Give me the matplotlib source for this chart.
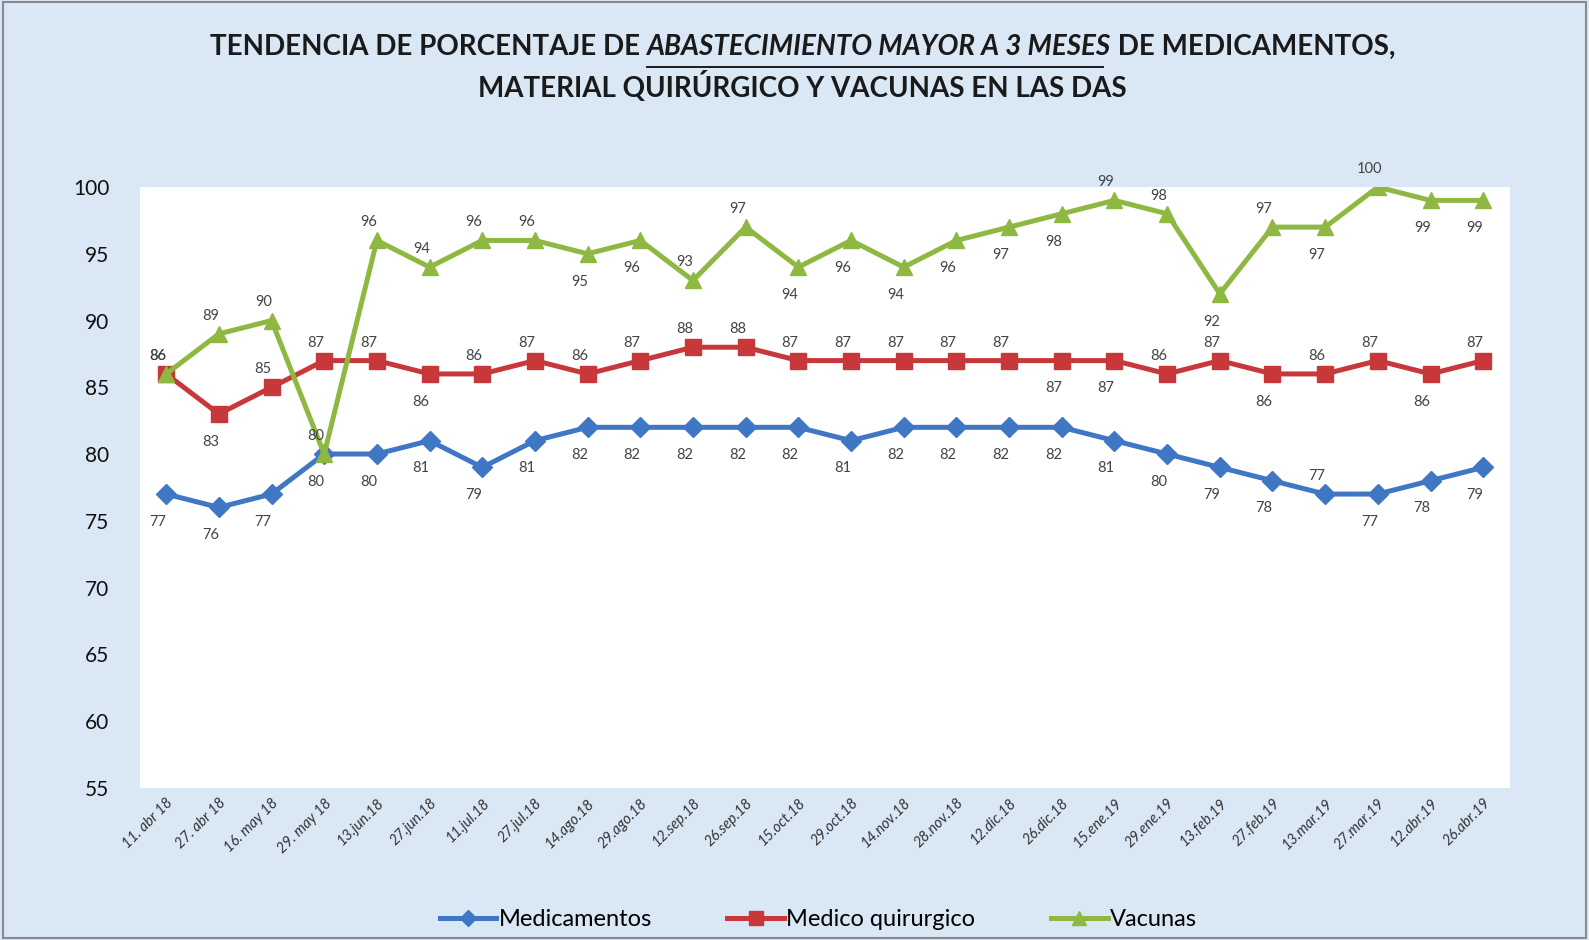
import matplotlib.pyplot as plt

fechas = ['11. abr 18', '27. abr 18', '16. may 18', '29. may 18', '13.jun.18', '27.jun.18',
          '11.jul.18', '27.jul.18', '14.ago.18', '29.ago.18', '12.sep.18', '26.sep.18',
          '15.oct.18', '29.oct.18', '14.nov.18', '28.nov.18', '12.dic.18', '26.dic.18',
          '15.ene.19', '29.ene.19', '13.feb.19', '27.feb.19', '13.mar.19', '27.mar.19',
          '12.abr.19', '26.abr.19']
medicamentos = [77, 76, 77, 80, 80, 81, 79, 81, 82, 82, 82, 82, 82, 81, 82, 82, 82, 82,
                81, 80, 79, 78, 77, 77, 78, 79]
medico_quir = [86, 83, 85, 87, 87, 86, 86, 87, 86, 87, 88, 88, 87, 87, 87, 87, 87, 87,
               87, 86, 87, 86, 86, 87, 86, 87]
vacunas = [86, 89, 90, 80, 96, 94, 96, 96, 95, 96, 93, 97, 94, 96, 94, 96, 97, 98,
           99, 98, 92, 97, 97, 100, 99, 99]

# label placement (a = above, b = below), like the Excel original
pos_med = 'bbbbbbbbbbbbbbbbbbbbbbabbb'
pos_mq = 'abaaabaaaaaaaaaaabbaabaaba'
pos_vac = 'aaaaaaaabbaabbbbbbaabababb'

plt.rcParams['font.family'] = ['Lato', 'DejaVu Sans']
bg = '#dae7f5'

fig = plt.figure(figsize=(15.89, 9.40), dpi=100, facecolor=bg)
fig.patches.append(plt.Rectangle((0.002, 0.002), 0.996, 0.996, transform=fig.transFigure,
                                 fill=False, edgecolor='#8a8a8a', linewidth=1.5))
ax = fig.add_axes([0.088, 0.162, 0.862, 0.639])
ax.set_facecolor('white')

x = list(range(len(fechas)))
ax.plot(x, medicamentos, color='#4077c4', lw=3.6, marker='D', ms=10, label='Medicamentos', zorder=3)
ax.plot(x, medico_quir, color='#c8373a', lw=3.6, marker='s', ms=12, label='Medico quirurgico', zorder=3)
ax.plot(x, vacunas, color='#8fb842', lw=3.6, marker='^', ms=12, label='Vacunas', zorder=4)

for serie, pos in [(medicamentos, pos_med), (medico_quir, pos_mq), (vacunas, pos_vac)]:
    for i, v in enumerate(serie):
        dy = 13 if pos[i] == 'a' else -20
        ax.annotate(str(v), (i, v), xytext=(-6, dy), textcoords='offset points',
                    ha='center', va='center', fontsize=10.5, color='#444444', zorder=5)

ax.set_xlim(-0.5, len(fechas) - 0.5)
ax.set_ylim(55, 100)
ax.set_yticks(range(55, 101, 5))
ax.set_xticks(x)
ax.set_xticklabels(fechas, rotation=45, ha='right', rotation_mode='anchor',
                   fontsize=10.5, color='#333333', style='italic')
ax.tick_params(axis='y', labelsize=15, length=0, pad=22, labelcolor='#111111')
ax.tick_params(axis='x', length=0, pad=6)
for s in ax.spines.values():
    s.set_visible(False)

fig.legend(loc='lower center', bbox_to_anchor=(0.515, -0.012), ncol=3, frameon=False,
           fontsize=17, handlelength=2.4, handletextpad=0.1, columnspacing=3.2,
           markerscale=0.8)

# title with an italic underlined part
r = fig.canvas.get_renderer()
parts = [('TENDENCIA DE PORCENTAJE DE ', 'normal'),
         ('ABASTECIMIENTO MAYOR A 3 MESES', 'italic'),
         (' DE MEDICAMENTOS,', 'normal')]
texts = []
for s, st in parts:
    t = fig.text(0, 0.950, s, fontsize=20, fontweight='bold', style=st, color='#1a1a1a',
                 va='center', ha='left')
    texts.append(t)
widths = [t.get_window_extent(r).width for t in texts]
total = sum(widths)
x0 = 0.505 * fig.bbox.width - total / 2
for t, w in zip(texts, widths):
    t.set_x(x0 / fig.bbox.width)
    if t.get_style() == 'italic':
        fig.add_artist(plt.Line2D([x0 / fig.bbox.width, (x0 + w - 8) / fig.bbox.width],
                                  [0.929, 0.929], color='#1a1a1a', lw=1.4))
    x0 += w
fig.text(0.505, 0.908, 'MATERIAL QUIRÚRGICO Y VACUNAS EN LAS DAS', fontsize=20,
         fontweight='bold', color='#1a1a1a', ha='center', va='center')

fig.savefig('out.png', dpi=100, facecolor=bg)
